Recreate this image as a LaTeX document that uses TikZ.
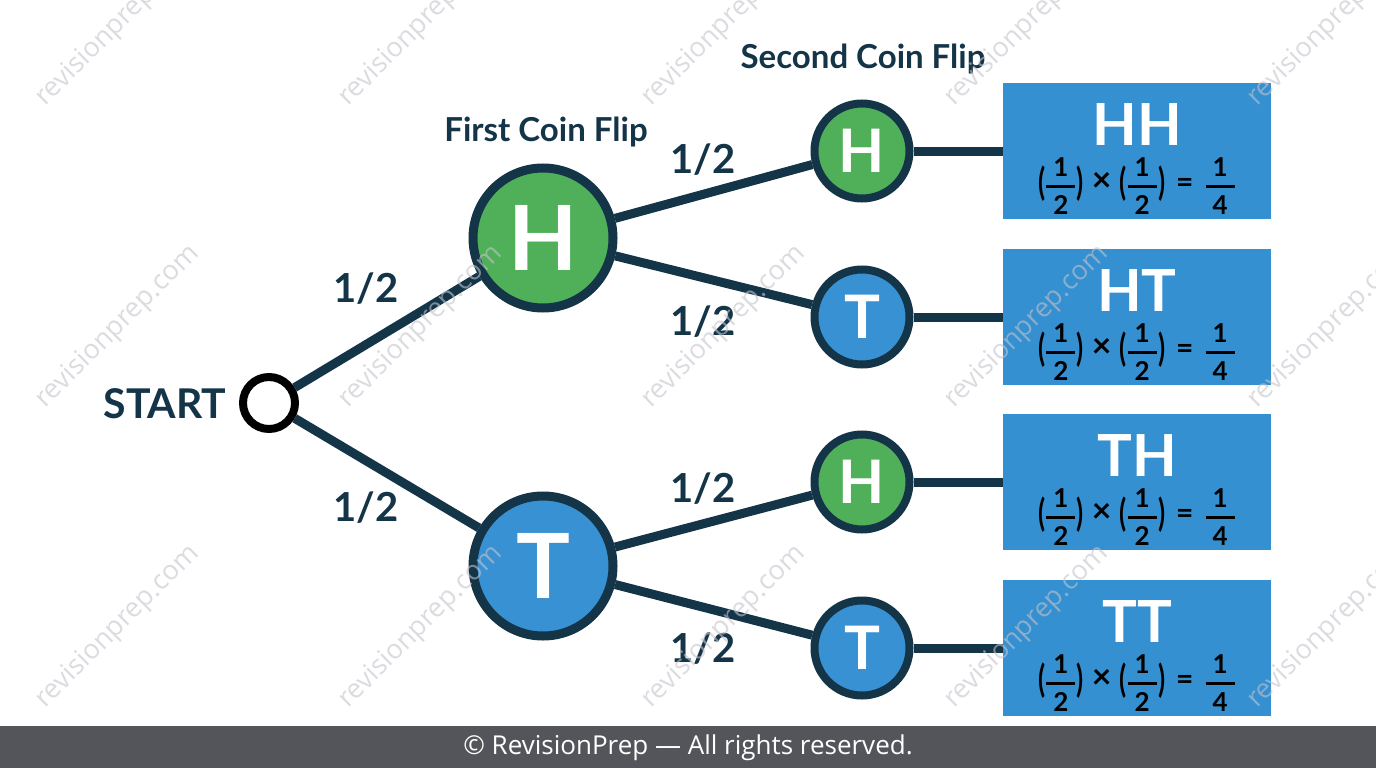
\documentclass[tikz,border=0pt]{standalone}
\usepackage{fontspec}
\usepackage{amsmath}
\usepackage{graphicx}
\setmainfont{Lato}
\newfontfamily\footfont{Open Sans}
\usetikzlibrary{backgrounds}
\definecolor{navy}{RGB}{20,52,72}
\definecolor{cgreen}{RGB}{80,176,90}
\definecolor{cblue}{RGB}{55,145,210}
\definecolor{bblue}{RGB}{52,144,208}
\definecolor{footgray}{RGB}{84,85,90}
\definecolor{wmgray}{RGB}{196,196,204}
\newcommand{\fsz}[1]{\fontsize{#1}{#1}\selectfont}
\newcommand{\myfr}[2]{\ensuremath{\genfrac{}{}{2.6pt}{0}{\text{\hspace{7pt}#1\hspace{7pt}}}{\text{#2}}}}
\newcommand{\bigparen}[1]{\raisebox{-3pt}{\scalebox{1}[1.45]{#1}}}
\newcommand{\prob}{{\fsz{26}\bfseries\bigparen{(}\myfr12\bigparen{)}\hspace{8pt}\raisebox{1pt}{\scalebox{1.3}{×}}\hspace{8pt}\bigparen{(}\myfr12\bigparen{)}\hspace{11pt}\scalebox{1.15}{=}\hspace{11pt}\myfr14}}
\tikzset{
  edge/.style={draw=navy, line width=9pt},
  startnode/.style={circle, draw=black, line width=8pt, minimum size=52pt, inner sep=0pt, fill=white},
  bignode/.style={circle, draw=navy, line width=9pt, minimum size=140pt, inner sep=0pt, text=white, font=\fsz{90}\bfseries},
  smallnode/.style={circle, draw=navy, line width=8pt, minimum size=95pt, inner sep=0pt, text=white, font=\fsz{60}\bfseries},
  outbox/.style={rectangle, fill=bblue, minimum width=268pt, minimum height=136pt, inner sep=0pt},
  outname/.style={anchor=base, text=white, font=\fsz{58}\bfseries, inner sep=0pt},
  outprob/.style={anchor=center, text=black, inner sep=0pt},
  prlabel/.style={anchor=base, text=navy, font=\fsz{40}\bfseries, inner sep=0pt},
  header/.style={anchor=base, text=navy, font=\fsz{33}\bfseries, inner sep=0pt},
  wmark/.style={rotate=45, text=wmgray, font=\footfont\fsz{27}, inner sep=0pt},
}
\begin{document}
\begin{tikzpicture}[x=1pt, y=-1pt]
\useasboundingbox (0,0) rectangle (1376,768);
% nodes
\node[startnode] (s) at (269,403) {};
\node[anchor=base, text=navy, font=\fsz{41}\bfseries, inner sep=0pt] (start) at (165,418) {START};
\node[bignode, fill=cgreen] (h1) at (543,238) {H};
\node[bignode, fill=cblue] (t1) at (543,566) {T};
\node[smallnode, fill=cgreen] (h2) at (862,151) {H};
\node[smallnode, fill=cblue] (t2) at (862,317) {T};
\node[smallnode, fill=cgreen] (h3) at (862,482) {H};
\node[smallnode, fill=cblue] (t3) at (862,648) {T};
\node[outbox] (b1) at (1137,151) {};
\node[outbox] (b2) at (1137,317) {};
\node[outbox] (b3) at (1137,482) {};
\node[outbox] (b4) at (1137,648) {};
\foreach \b/\n in {b1/HH, b2/HT, b3/TH, b4/TT}{
  \node[outname] (\b n) at ([yshift=6pt]\b.center) {\n};
  \node[outprob] (\b p) at ([yshift=-35pt]\b.center) {\prob};
}
% headers
\node[header] (fh) at (546,141) {First Coin Flip};
\node[header] (sh) at (863,69) {Second Coin Flip};
% probability labels
\node[prlabel] (l1) at (366,302) {1/2};
\node[prlabel] (l2) at (366,521) {1/2};
\node[prlabel] (l3) at (703,173) {1/2};
\node[prlabel] (l4) at (703,335) {1/2};
\node[prlabel] (l5) at (703,502) {1/2};
\node[prlabel] (l6) at (703,662) {1/2};
% edges
\begin{scope}[on background layer]
\fill[white] (0,0) rectangle (1376,768);
\draw[edge] (s) -- (h1);
\draw[edge] (s) -- (t1);
\draw[edge] (h1) -- (h2);
\draw[edge] (h1) -- (t2);
\draw[edge] (t1) -- (h3);
\draw[edge] (t1) -- (t3);
\draw[edge] (h2) -- (b1);
\draw[edge] (t2) -- (b2);
\draw[edge] (h3) -- (b3);
\draw[edge] (t3) -- (b4);
\end{scope}
% watermarks
\foreach \x in {118,421,724,1027,1330}{
  \foreach \y in {25,327,627}{
    \node[wmark, opacity=0.6] at (\x,\y) {revisionprep.com};
  }
}
% footer
\fill[footgray] (0,726) rectangle (1376,768);
\node[text=white, font=\footfont\fsz{26}, inner sep=0pt] (foot) at (688,748) {© RevisionPrep — All rights reserved.};
\end{tikzpicture}
\end{document}
